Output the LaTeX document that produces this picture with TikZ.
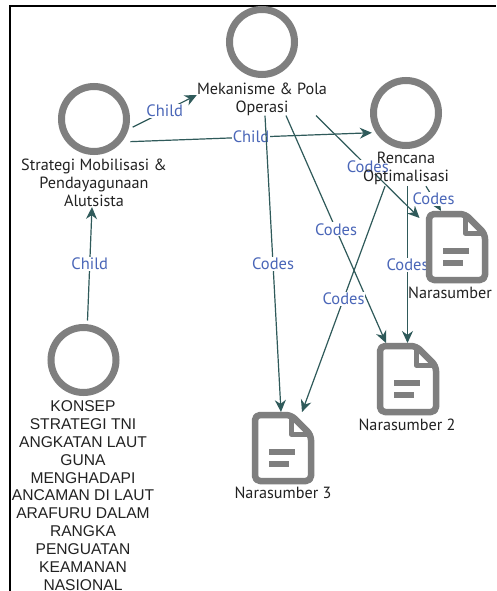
\documentclass[tikz,border=0pt]{standalone}
\usepackage{fontspec}
\setmainfont{PT Sans}
\newfontfamily\konsepfont{Liberation Sans}
\usetikzlibrary{arrows.meta}
\definecolor{ringgray}{HTML}{7F7F7F}
\definecolor{linkteal}{HTML}{2F5A5A}
\definecolor{tagblue}{HTML}{4A66B8}
\definecolor{textblack}{HTML}{222222}

\begin{document}
\begin{tikzpicture}[x=1pt,y=-1pt]
\tikzstyle{ring}=[circle,draw=ringgray,line width=7pt,minimum size=65pt,inner sep=0pt,outer sep=7pt];
\tikzstyle{doc}=[minimum width=63pt,minimum height=72pt,inner sep=0pt,outer sep=0pt];
\tikzstyle{caption}=[align=center,inner sep=0pt,text=textblack,font=\fontsize{16.2}{18}\selectfont];
\tikzstyle{bigcaption}=[align=center,inner sep=0pt,text=textblack,font=\konsepfont\fontsize{15.6}{17.85}\selectfont];
\tikzstyle{link}=[draw=linkteal,line width=1.2pt,-{Stealth[length=12pt,width=11pt]}];
\tikzstyle{tag}=[fill=white,inner sep=1pt,text=tagblue,font=\fontsize{16.5}{18}\selectfont];
\tikzset{docicon/.pic={
  \draw [ringgray,line width=6.5pt,fill=white,rounded corners=5pt,line join=round]
    (-28,-33) -- (8,-33) -- (28,-13) -- (28,33) -- (-28,33) -- cycle;
  \draw [ringgray,line width=5pt,line join=round] (8,-32) -- (8,-14) -- (27,-14);
  \fill [ringgray] (-14,1) rectangle (12,7);
  \fill [ringgray] (-14,13) rectangle (6,19);
}}
\useasboundingbox (0,0) rectangle (496,591);
\fill [white] (0,0) rectangle (496,591);
\draw [black,line width=2pt] (10,591) -- (10,6) -- (496,6);

\node [ring] (r1) at (262,42) {};
\node [caption] (t1) at (262,99) {Mekanisme \& Pola\\Operasi};
\node [ring] (r2) at (94,119) {};
\node [caption] (t2) at (94,183) {Strategi Mobilisasi \&\\Pendayagunaan\\Alutsista};
\node [ring] (r3) at (406,113) {};
\node [minimum height=36pt,inner sep=0pt] (b3) at (406,168) {};
\node [ring] (r4) at (83.5,360) {};
\node [doc] (d1) at (457,247) {};
\node [doc] (d2) at (408,379) {};
\node [doc] (d3) at (283,448) {};

\draw [link] (r2.-12) -- node [tag] {Child} ([yshift=4pt]t1.west);
\draw [link] ([xshift=4pt]r2.-35) -- node [tag] {Child} (r3.210);
\draw [link] ([xshift=4pt]r4.north) -- node [tag] {Child} ([xshift=-2pt]t2.south);
\draw [link] ([xshift=3pt]t1.south) -- node [tag] {Codes} ([xshift=-2pt]d3.north);
\draw [link] ([xshift=24pt]t1.south) -- node [tag] {Codes} ([xshift=-22pt]d2.north);
\draw [link] ([xshift=54pt]t1.south) -- node [tag] {Codes} ([xshift=-6pt,yshift=-7pt]d1.north west);
\draw [link] ([xshift=-21pt]b3.south) -- node [tag] {Codes} ([xshift=19pt]d3.north);
\draw [link] ([xshift=1.5pt]b3.south) -- node [tag] {Codes} ([xshift=-.5pt]d2.north);
\draw [link] ([xshift=20pt]b3.south) -- node [tag] {Codes} ([xshift=-16pt]d1.north);

\pic at (d1) {docicon};
\pic at (d2) {docicon};
\pic at (d3) {docicon};
\node [caption] (t3) at (b3) {Rencana\\Optimalisasi};
\node [caption] (n1) at (450,293) {Narasumber};
\node [caption] (n2) at (407,425) {Narasumber 2};
\node [caption] (n3) at (283,493) {Narasumber 3};
\node [bigcaption] (t4) at (83,495.5) {KONSEP\\STRATEGI TNI\\ANGKATAN LAUT\\GUNA\\MENGHADAPI\\ANCAMAN DI LAUT\\ARAFURU DALAM\\RANGKA\\PENGUATAN\\KEAMANAN\\NASIONAL};
\end{tikzpicture}
\end{document}
